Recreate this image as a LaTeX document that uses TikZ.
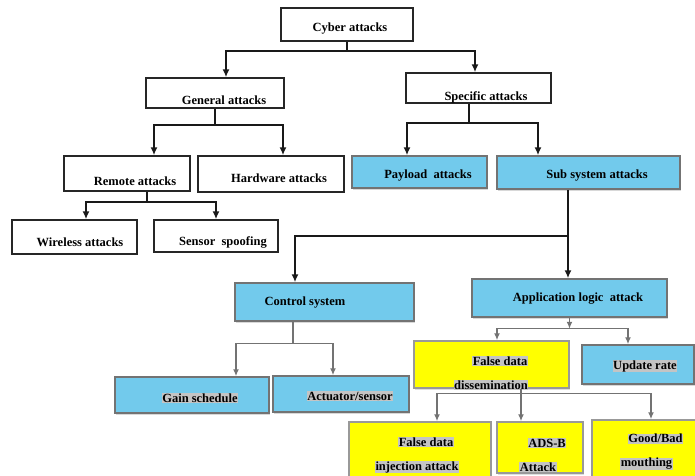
\documentclass[tikz,border=0pt]{standalone}
\usepackage{fontspec}
\setmainfont{Liberation Serif}
\usetikzlibrary{arrows.meta,shadows}
\definecolor{skyb}{RGB}{114,202,236}
\definecolor{yel}{RGB}{255,255,0}
\definecolor{hlgray}{RGB}{196,196,196}
\newcommand{\fsz}{\fontsize{12.5}{24}\selectfont\bfseries}
\newcommand{\hlt}[1]{{\setlength{\fboxsep}{0.6pt}\colorbox{hlgray}{#1}}}
\newcommand{\ind}{\hspace*{18pt}}
\tikzset{
  every label/.style={font=\fsz,inner sep=0pt,align=center},
  box/.style={draw,line width=1.5pt,inner sep=0pt},
  wbox/.style={box,draw=black!85,fill=white,drop shadow={shadow xshift=1pt,shadow yshift=-1.2pt,fill=black!30}},
  bbox/.style={box,draw=black!55,fill=skyb,drop shadow={shadow xshift=1.2pt,shadow yshift=-1.5pt,fill=black!30}},
  ybox/.style={box,draw=black!40,fill=yel,drop shadow={shadow xshift=1.2pt,shadow yshift=-1.5pt,fill=black!25}},
  arr/.style={line width=1.5pt,draw=black!90,-{Latex[length=8pt,width=7pt]}},
  garr/.style={line width=1.4pt,draw=black!55,-{Latex[length=7pt,width=6pt]}}
}
\begin{document}
\begin{tikzpicture}[x=1pt,y=-1pt]
  \useasboundingbox (0,0) rectangle (695,475);
  \clip (0,0) rectangle (695,475);
  %上层(白框)
  \node[wbox,minimum width=132pt,minimum height=33pt,label={[xshift=3pt,yshift=-4.5pt]center:Cyber attacks}] (cyber) at (347,24.5) {};
  \node[wbox,minimum width=138pt,minimum height=30pt,label={[xshift=9pt,yshift=-7pt]center:General attacks}] (gen) at (215,93) {};
  \node[wbox,minimum width=145pt,minimum height=30pt,label={[xshift=7.5pt,yshift=-9pt]center:Specific attacks}] (spec) at (478.5,88) {};
  \node[wbox,minimum width=126pt,minimum height=35pt,label={[xshift=8pt,yshift=-7.5pt]center:Remote attacks}] (remote) at (127,173.5) {};
  \node[wbox,minimum width=146pt,minimum height=36pt,label={[xshift=8pt,yshift=-4pt]center:Hardware attacks}] (hard) at (271,174) {};
  \node[wbox,minimum width=125pt,minimum height=34pt,label={[xshift=5.5pt,yshift=-5pt]center:Wireless attacks}] (wire) at (74.5,237) {};
  \node[wbox,minimum width=124pt,minimum height=32pt,label={[xshift=7pt,yshift=-6pt]center:Sensor\ \ spoofing}] (sens) at (216,236) {};
  %蓝框
  \node[bbox,minimum width=135pt,minimum height=32pt,label={[xshift=8.5pt,yshift=-4pt]center:Payload\ \ attacks}] (pay) at (419.5,172) {};
  \node[bbox,minimum width=183pt,minimum height=33pt,label={[xshift=8.5pt,yshift=-3.5pt]center:Sub system attacks}] (sub) at (588.5,172.5) {};
  \node[bbox,minimum width=179pt,minimum height=38pt,label={[xshift=-19.5pt,yshift=-1pt]center:Control system}] (ctrl) at (324.5,302) {};
  \node[bbox,minimum width=195pt,minimum height=38pt,label={[xshift=8.5pt,yshift=-1pt]center:Application logic\ \ attack}] (app) at (569.5,298) {};
  \node[bbox,minimum width=154pt,minimum height=36pt,label={[xshift=8pt,yshift=-3pt]center:\hlt{Gain schedule}}] (gain) at (192,395) {};
  \node[bbox,minimum width=136pt,minimum height=36pt,label={[xshift=9pt,yshift=-2pt]center:\hlt{Actuator/sensor}}] (act) at (341,394) {};
  \node[bbox,minimum width=112pt,minimum height=39pt,label={[xshift=7pt,yshift=-1.5pt]center:\hlt{Update rate}}] (upd) at (638,364.5) {};
  %黄框
  \node[ybox,minimum width=155pt,minimum height=47pt,label={[xshift=-0.5pt,yshift=-8.5pt]center:\ind\hlt{False data}\\\hlt{dissemination}}] (fdd) at (491.5,364.5) {};
  \node[ybox,minimum width=142pt,minimum height=63pt,label={[xshift=-3pt,yshift=-1.5pt]center:\ind\hlt{False data}\\\hlt{injection attack}}] (fdi) at (420,453.5) {};
  \node[ybox,minimum width=86pt,minimum height=51pt,label={[xshift=-2pt,yshift=-7.5pt]center:\ind\hlt{ADS-B}\\\hlt{Attack}}] (ads) at (540,447.5) {};
  \node[ybox,minimum width=123pt,minimum height=65pt,label={[xshift=-7pt,yshift=0.5pt]center:\ind\hlt{Good/Bad}\\\hlt{mouthing}}] (good) at (653.5,452.5) {};
  %连线
  \draw[arr] (cyber.south) -- ++(0,9) coordinate (b1) -| ([xshift=11pt]gen.north);
  \draw[arr] (b1) -| ([xshift=-3.5pt]spec.north);
  \draw[arr] (gen.south) -- ++(0,16) coordinate (b2) -| ([xshift=27pt]remote.north);
  \draw[arr] (b2) -| ([xshift=12pt]hard.north);
  \draw[arr] ([xshift=20pt]remote.south) -- ++(0,10) coordinate (b3) -| ([xshift=11.5pt]wire.north);
  \draw[arr] (b3) -| (sens.north);
  \draw[arr] ([xshift=-9.5pt]spec.south) -- ++(0,19) coordinate (b4) -| ([xshift=-12.5pt]pay.north);
  \draw[arr] (b4) -| ([xshift=-50.5pt]sub.north);
  \draw[arr] ([xshift=-20.5pt]sub.south) -- ([xshift=-1.5pt]app.north);
  \coordinate (b5) at ([xshift=-20.5pt,yshift=-46pt]sub.south);
  \draw[arr] (b5) -| ([xshift=-29.5pt]ctrl.north);
  %下层连线(灰)
  \draw[garr] ([xshift=-31.5pt]ctrl.south) -- ++(0,22) coordinate (b6) -| ([xshift=44pt]gain.north);
  \draw[garr] (b6) -| ([xshift=-8pt]act.north);
  \draw[garr] (app.south) -- ++(0,11) coordinate (b7);
  \draw[garr] (b7) -| ([xshift=5.5pt]fdd.north);
  \draw[garr] (b7) -| ([xshift=-10pt]upd.north);
  \draw[garr,-] ([xshift=29.5pt]fdd.south) -- ++(0,5) coordinate (b8);
  \draw[garr] (b8) -| ([xshift=17pt]fdi.north);
  \draw[garr] (b8) -| ([xshift=-19pt]ads.north);
  \draw[garr] (b8) -| ([xshift=-2.5pt]good.north);
\end{tikzpicture}
\end{document}
